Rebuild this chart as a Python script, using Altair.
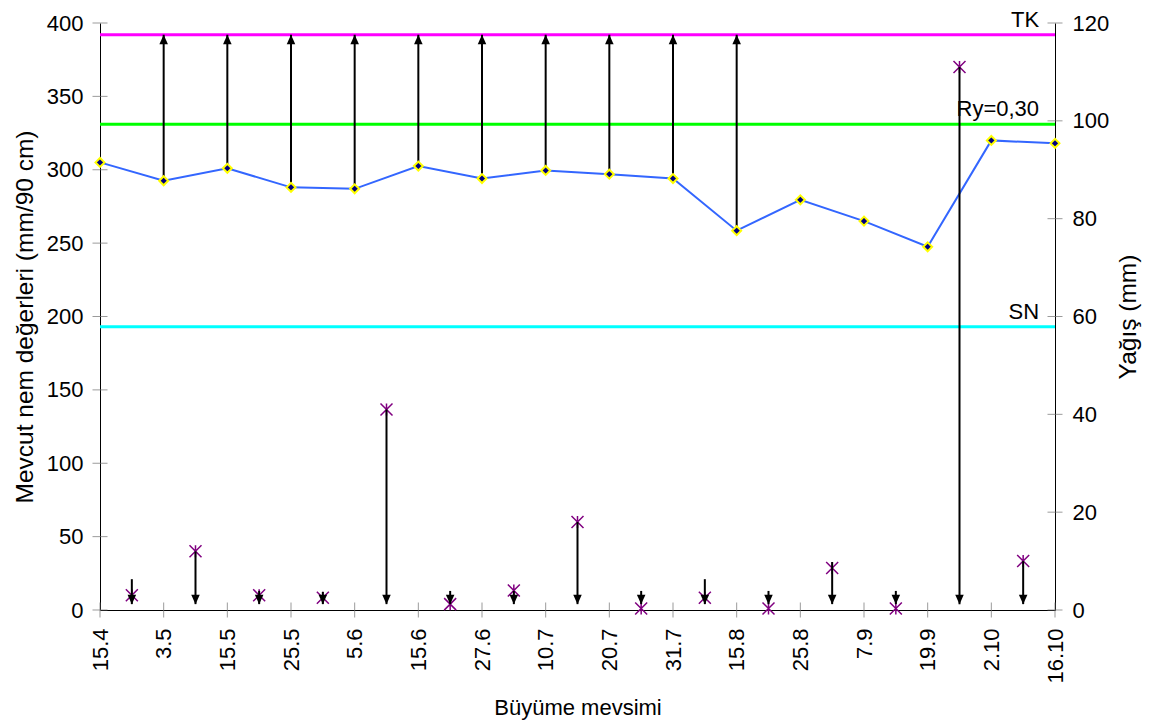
import json
import altair as alt
import pandas as pd

# ---------------- data ----------------
categories = ["15.4", "3.5", "15.5", "25.5", "5.6", "15.6", "27.6", "10.7",
              "20.7", "31.7", "15.8", "25.8", "7.9", "19.9", "2.10", "16.10"]
moisture = [305, 292.5, 301, 288, 287, 302.5, 294, 299.5,
            297, 294, 258.5, 279.5, 265, 247.5, 320, 318]
ref_names = ["TK", "Ry=0,30", "SN"]
ref_values = [392, 331, 193]
ref_colors = ["#FF00FF", "#00FF00", "#00FFFF"]
irrigated = [1, 2, 3, 4, 5, 6, 7, 8, 9, 10]          # category index of irrigation
rain = [3, 12, 3, 2.5, 41, 1.2, 4, 18, 0.3, 2.5, 0.3, 8.6, 0.3, 111, 10]
rain_arrow_top = [6.3, 12, 3.9, 3.7, 41, 3.9, 3.9, 18, 3.9, 6.3, 3.9, 9.8, 3.9, 111, 10]
rain_arrow_tip = 1.2
left_ticks = [0, 50, 100, 150, 200, 250, 300, 350, 400]
right_ticks = [0, 20, 40, 60, 80, 100, 120]

FONT = "Liberation Sans"
n = len(categories)

df_line = pd.DataFrame({"i": list(range(n)), "m": moisture})
df_irr = pd.DataFrame({"i": irrigated,
                       "m": [moisture[k] for k in irrigated],
                       "top": [ref_values[0]] * len(irrigated)})
df_rain = pd.DataFrame({"i": [k + 0.5 for k in range(len(rain))],
                        "r": rain, "top": rain_arrow_top,
                        "tip": [rain_arrow_tip] * len(rain)})
df_ref = pd.DataFrame({"name": ref_names, "v": ref_values, "color": ref_colors,
                       "lx": [n - 1 - 0.25] * 3})
df_xt = pd.DataFrame({"i": list(range(n)), "z": [0] * n})
df_lt = pd.DataFrame({"x": [0] * len(left_ticks), "v": left_ticks})
df_rt = pd.DataFrame({"x": [n - 1] * len(right_ticks), "v": right_ticks})

xscale = alt.Scale(domain=[0, n - 1], nice=False, zero=False)
lscale = alt.Scale(domain=[0, 400], nice=False)
rscale = alt.Scale(domain=[0, 120], nice=False)

common = dict(ticks=False, grid=False, domainColor="black", labelFontSize=22,
              titleFontWeight="normal", labelColor="black",
              titleColor="black", labelFont=FONT, titleFont=FONT)
label_expr = json.dumps(categories) + "[datum.value]"
xaxis = alt.Axis(values=list(range(n)), labelExpr=label_expr, labelAngle=270,
                 labelAlign="right", labelBaseline="middle", labelPadding=18,
                 title="Büyüme mevsimi", titlePadding=14, titleFontSize=22, **common)
laxis = alt.Axis(values=left_ticks, labelPadding=17, titleFontSize=24.5,
                 title="Mevcut nem değerleri (mm/90 cm)", titlePadding=9, **common)
raxis = alt.Axis(values=right_ticks, orient="right", labelPadding=17,
                 titleFontSize=24.5, title="Yağış (mm)", titleAngle=270,
                 titlePadding=32, **common)


def X(f):
    return alt.X(f, scale=xscale, axis=xaxis)


def YL(f):
    return alt.Y(f, scale=lscale, axis=laxis)


def YR(f):
    return alt.Y(f, scale=rscale, axis=raxis)


# ---------------- left-scale layers ----------------
ref_rules = alt.Chart(df_ref).mark_rule(strokeWidth=3).encode(
    y=YL("v:Q"), color=alt.Color("color:N", scale=None))
ref_text = alt.Chart(df_ref).mark_text(align="right", baseline="alphabetic", dy=-8,
                                       fontSize=22, font=FONT, color="black").encode(
    x=X("lx:Q"), y=YL("v:Q"), text="name:N")
m_line = alt.Chart(df_line).mark_line(color="#3366FF", strokeWidth=2).encode(
    x=X("i:Q"), y=YL("m:Q"))
irr_shaft = alt.Chart(df_irr).mark_rule(color="black", strokeWidth=2).encode(
    x=X("i:Q"), y=YL("m:Q"), y2="top:Q")
irr_head = alt.Chart(df_irr).mark_point(shape="M0,-1L-0.9,1L0.9,1Z", filled=True,
                                        color="black", size=90, opacity=1,
                                        yOffset=4.7).encode(
    x=X("i:Q"), y=YL("top:Q"))
m_pts = alt.Chart(df_line).mark_point(shape="diamond", filled=True, fill="#000080",
                                      stroke="#FFFF00", strokeWidth=2, size=80,
                                      opacity=1).encode(
    x=X("i:Q"), y=YL("m:Q"))
x_ticks = alt.Chart(df_xt).mark_tick(orient="vertical", size=15, thickness=1,
                                     color="#707070").encode(
    x=X("i:Q"), y=YL("z:Q"))
l_ticks = alt.Chart(df_lt).mark_tick(orient="horizontal", size=15, thickness=1,
                                     color="#707070").encode(
    x=X("x:Q"), y=YL("v:Q"))

left = alt.layer(ref_rules, ref_text, m_line, irr_shaft, irr_head, m_pts, x_ticks, l_ticks)

# ---------------- right-scale layers ----------------
rain_pts = alt.Chart(df_rain).mark_point(shape="M-1,-1L1,1M1,-1L-1,1M0,-1L0,1",
                                         filled=False, stroke="#800080",
                                         strokeWidth=1.5, size=144, opacity=1).encode(
    x=X("i:Q"), y=YR("r:Q"))
rain_shaft = alt.Chart(df_rain).mark_rule(color="black", strokeWidth=2).encode(
    x=X("i:Q"), y=YR("top:Q"), y2="tip:Q")
rain_head = alt.Chart(df_rain).mark_point(shape="M0,1L-0.9,-1L0.9,-1Z", filled=True,
                                          color="black", size=90, opacity=1,
                                          yOffset=-4.7).encode(
    x=X("i:Q"), y=YR("tip:Q"))
r_ticks = alt.Chart(df_rt).mark_tick(orient="horizontal", size=15, thickness=1,
                                     color="#707070").encode(
    x=X("x:Q"), y=YR("v:Q"))

right = alt.layer(rain_pts, rain_shaft, rain_head, r_ticks)

chart = alt.layer(left, right).resolve_scale(y="independent").properties(
    width=955, height=587,
    autosize=alt.AutoSizeParams(type="none"),
    padding={"left": 100, "top": 23, "right": 99, "bottom": 112},
    background="white",
).configure_view(stroke=None)

chart.save("out.html", embed_options={"renderer": "svg", "actions": False})
